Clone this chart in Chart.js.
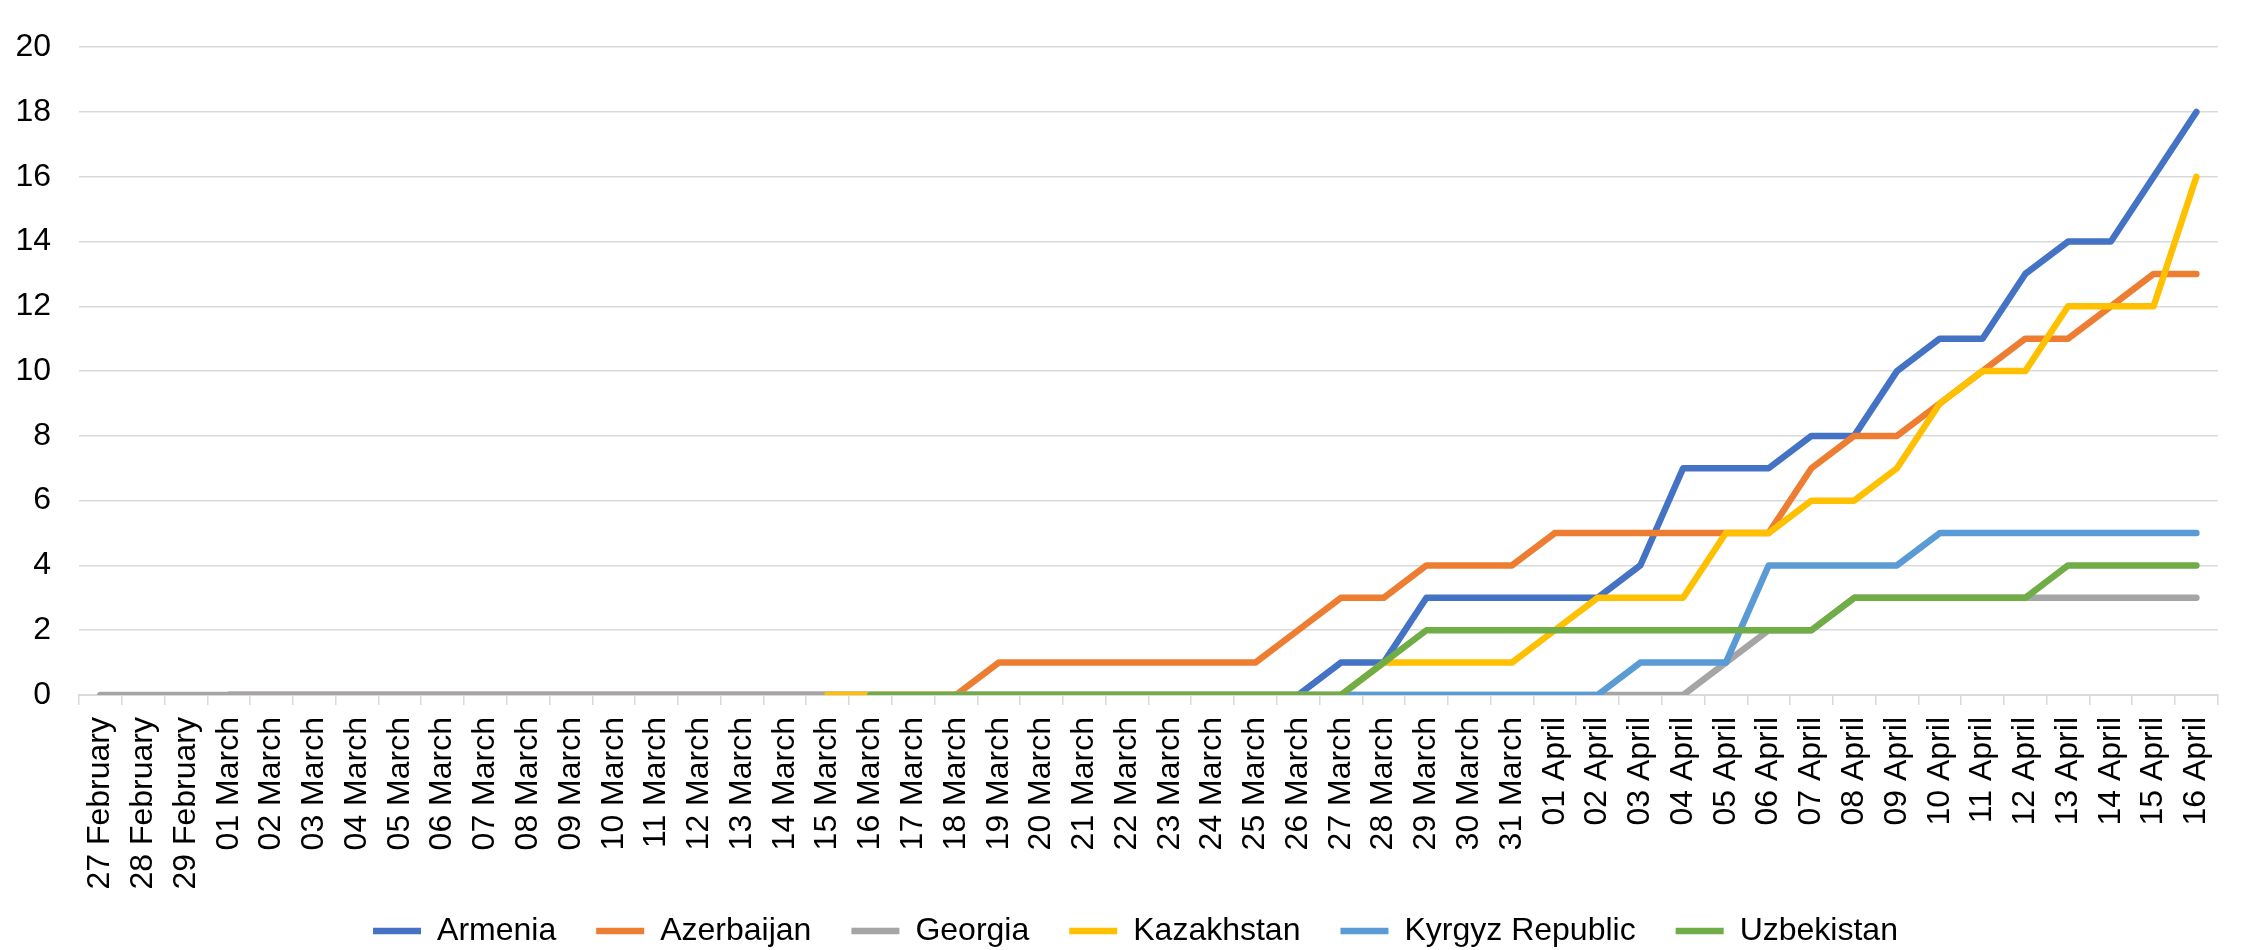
<!DOCTYPE html>
<html>
<head>
<meta charset="utf-8">
<script src="https://cdn.jsdelivr.net/npm/chart.js@4/dist/chart.umd.min.js"></script>
<style>
  html, body { margin: 0; padding: 0; background: #ffffff; }
  #chart { display: block; }
</style>
</head>
<body>
<canvas id="chart" width="2247" height="950"></canvas>
<script>
// Daily dates on the category axis
const dates = [
  '27 February', '28 February', '29 February',
  '01 March', '02 March', '03 March', '04 March', '05 March', '06 March', '07 March',
  '08 March', '09 March', '10 March', '11 March', '12 March', '13 March', '14 March',
  '15 March', '16 March', '17 March', '18 March', '19 March', '20 March', '21 March',
  '22 March', '23 March', '24 March', '25 March', '26 March', '27 March', '28 March',
  '29 March', '30 March', '31 March',
  '01 April', '02 April', '03 April', '04 April', '05 April', '06 April', '07 April',
  '08 April', '09 April', '10 April', '11 April', '12 April', '13 April', '14 April',
  '15 April', '16 April'
];

// Cumulative counts per country (null = no data reported yet)
const armenia = [
  null, null, null,
  0, 0, 0, 0, 0, 0, 0, 0, 0, 0, 0, 0, 0, 0, 0, 0, 0, 0, 0, 0, 0, 0, 0, 0, 0, 0, 1, 1, 3, 3, 3,
  3, 3, 4, 7, 7, 7, 8, 8, 10, 11, 11, 13, 14, 14, 16, 18
];
const azerbaijan = [
  null, null, null,
  0, 0, 0, 0, 0, 0, 0, 0, 0, 0, 0, 0, 0, 0, 0, 0, 0, 0, 1, 1, 1, 1, 1, 1, 1, 2, 3, 3, 4, 4, 4,
  5, 5, 5, 5, 5, 5, 7, 8, 8, 9, 10, 11, 11, 12, 13, 13
];
const georgia = [
  0, 0, 0,
  0, 0, 0, 0, 0, 0, 0, 0, 0, 0, 0, 0, 0, 0, 0, 0, 0, 0, 0, 0, 0, 0, 0, 0, 0, 0, 0, 0, 0, 0, 0,
  0, 0, 0, 0, 1, 2, 2, 3, 3, 3, 3, 3, 3, 3, 3, 3
];
const kazakhstan = [
  null, null, null,
  null, null, null, null, null, null, null, null, null, null, null, null, null, null,
  0, 0, 0, 0, 0, 0, 0, 0, 0, 0, 0, 0, 0, 1, 1, 1, 1,
  2, 3, 3, 3, 5, 5, 6, 6, 7, 9, 10, 10, 12, 12, 12, 16
];
const kyrgyz = [
  null, null, null,
  null, null, null, null, null, null, null, null, null, null, null, null, null, null,
  null, null, null, 0, 0, 0, 0, 0, 0, 0, 0, 0, 0, 0, 0, 0, 0,
  0, 0, 1, 1, 1, 4, 4, 4, 4, 5, 5, 5, 5, 5, 5, 5
];
const uzbekistan = [
  null, null, null,
  null, null, null, null, null, null, null, null, null, null, null, null, null, null,
  null, 0, 0, 0, 0, 0, 0, 0, 0, 0, 0, 0, 0, 1, 2, 2, 2,
  2, 2, 2, 2, 2, 2, 2, 3, 3, 3, 3, 3, 4, 4, 4, 4
];

// Value-axis range
const yMin = 0;
const yMax = 20;
const yStep = 2;

const FONT = "'Liberation Sans', Arial, Helvetica, sans-serif";
Chart.defaults.font.family = FONT;
Chart.defaults.color = '#000000';

function series(label, values, color, drawOrder) {
  return {
    label: label,
    data: values,
    borderColor: color,
    backgroundColor: color,
    borderWidth: 6.5,
    borderCapStyle: 'round',
    borderJoinStyle: 'round',
    pointRadius: 0,
    pointHoverRadius: 0,
    tension: 0,
    fill: false,
    spanGaps: false,
    order: drawOrder
  };
}

// Later countries are painted over earlier ones
const datasets = [
  series('Armenia', armenia, '#4472C4', 6),
  series('Azerbaijan', azerbaijan, '#ED7D31', 5),
  series('Georgia', georgia, '#A5A5A5', 4),
  series('Kazakhstan', kazakhstan, '#FFC000', 3),
  series('Kyrgyz Republic', kyrgyz, '#5B9BD5', 2),
  series('Uzbekistan', uzbekistan, '#70AD47', 1)
];

// Moves the legend row up and right; its box keeps the canvas bottom so nothing is clipped
const legendNudge = {
  id: 'legendNudge',
  afterLayout(chart) {
    const lg = chart.legend;
    if (!lg) return;
    const dx = 22, dy = -15;
    lg.left += dx; lg.right += dx;
    lg.top += dy;
  }
};

new Chart(document.getElementById('chart'), {
  type: 'line',
  data: { labels: dates, datasets: datasets },
  plugins: [legendNudge],
  options: {
    responsive: false,
    animation: false,
    devicePixelRatio: 1,
    layout: { padding: { left: 0, right: 20, top: 20, bottom: 0 } },
    plugins: {
      tooltip: { enabled: false },
      title: { display: false },
      legend: {
        position: 'bottom',
        align: 'center',
        maxHeight: 60,
        labels: {
          usePointStyle: true,
          pointStyle: 'line',
          pointStyleWidth: 48,
          padding: 40,
          color: '#000000',
          font: { size: 32, family: FONT },
          sort: (a, b) => a.datasetIndex - b.datasetIndex
        }
      }
    },
    scales: {
      x: {
        type: 'category',
        offset: true,
        grid: {
          offset: true,
          drawOnChartArea: false,
          drawTicks: true,
          tickLength: 10,
          color: '#d9d9d9',
          lineWidth: 1.5
        },
        border: { display: true, color: '#d9d9d9', width: 2 },
        ticks: {
          autoSkip: false,
          maxRotation: 90,
          minRotation: 90,
          padding: 12,
          color: '#000000',
          font: { size: 32, family: FONT }
        },
        afterFit: (scale) => { scale.height = 195; }
      },
      y: {
        min: yMin,
        max: yMax,
        grid: {
          drawTicks: false,
          color: '#d9d9d9',
          lineWidth: 1.5
        },
        border: { display: false },
        ticks: {
          stepSize: yStep,
          padding: 28,
          color: '#000000',
          font: { size: 32, family: FONT }
        },
        afterFit: (scale) => { scale.width = 79; }
      }
    }
  }
});
</script>
</body>
</html>
